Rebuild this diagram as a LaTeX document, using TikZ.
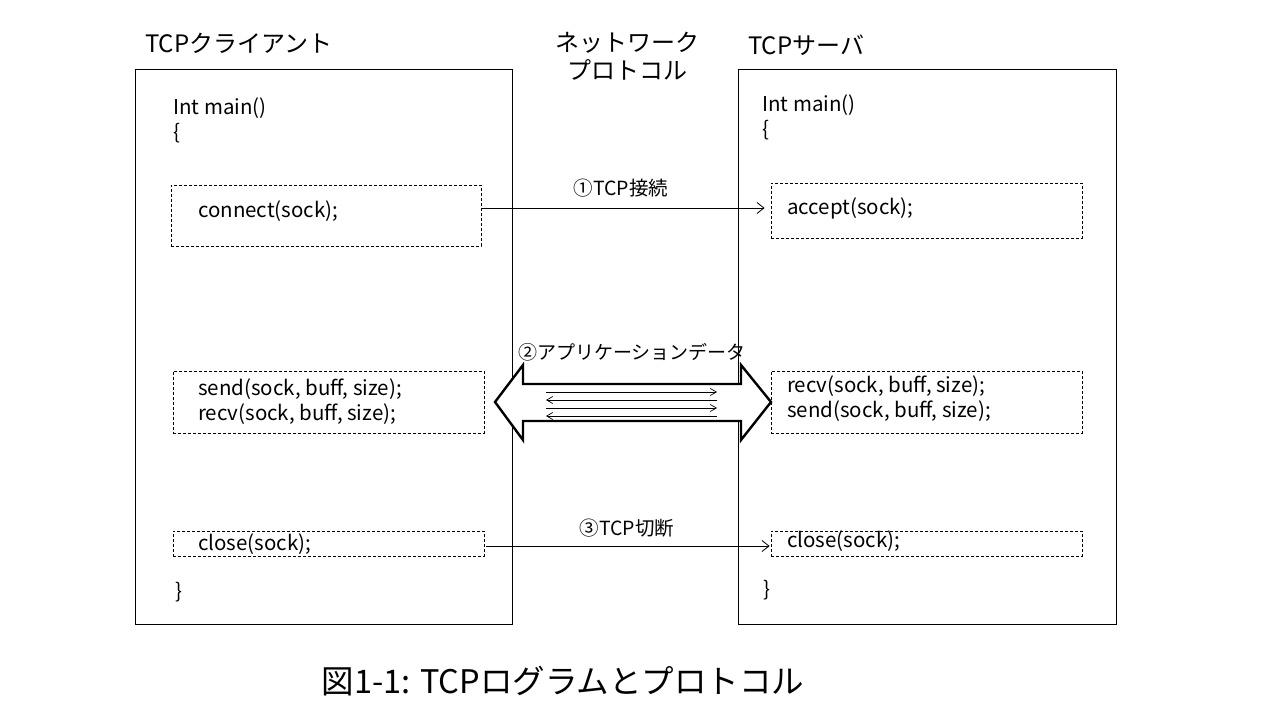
\documentclass[tikz,border=0pt]{standalone}
\usepackage{fontspec}
\setmainfont{Noto Sans CJK JP}
\usetikzlibrary{arrows.meta}
\tikzset{
 bigbox/.style={draw, line width=0.9pt, minimum height=555pt, inner sep=0pt},
 dbox/.style={draw, dash pattern=on 3pt off 2pt, line width=0.8pt, inner sep=0pt, minimum width=311pt},
 code/.style={font=\fontsize{20.5}{25}\selectfont, anchor=west, align=left, inner sep=0pt},
 ttl/.style={font=\fontsize{24}{28}\selectfont, inner sep=0pt},
 lbl/.style={font=\fontsize{19.5}{20}\selectfont, inner sep=0pt},
 msg/.style={-{Straight Barb[length=7pt,width=11pt]}, line width=0.8pt},
 small/.style={-{Straight Barb[length=6pt,width=7pt]}, line width=0.7pt},
 fat/.style={draw, fill=white, line width=2.4pt, line join=miter}
}
\begin{document}
\begin{tikzpicture}[x=1pt,y=-1pt]
\useasboundingbox[fill=white] (0,0) rectangle (1280,720);
% big boxes
\node[bigbox, minimum width=377pt] (client) at (323.5,346.5) {};
\node[bigbox, minimum width=378pt] (server) at (927,346.5) {};
% titles
\node[ttl, anchor=west] (tclient) at (145,43) {TCPクライアント};
\node[ttl, anchor=west] (tserver) at (748,45) {TCPサーバ};
\node[ttl, align=center] (tnet) at (627,56) {ネットワーク\\プロトコル};
% main
\node[code] (cmain) at (173,120.5) {Int main()\\\{};
\node[code] (smain) at (762,117) {Int main()\\\{};
\node[code] (cend) at (175,592) {\}};
\node[code] (send) at (763,590) {\}};
% dashed boxes
\node[dbox, minimum width=310pt, minimum height=61pt] (c1) at (326,215.5) {};
\node[dbox, minimum height=55pt] (a1) at (926.5,210.5) {};
\node[dbox, minimum height=62pt] (c2) at (328.5,402) {};
\node[dbox, minimum height=62pt] (a2) at (926.5,402) {};
\node[dbox, minimum height=25pt] (c3) at (328.5,543.5) {};
\node[dbox, minimum height=25pt] (a3) at (926.5,543.5) {};
% code texts
\node[code] (tc1) at (198,211) {connect(sock);};
\node[code] (ta1) at (787,208) {accept(sock);};
\node[code] (tc2) at (198,401.5) {send(sock, buff, size);\\recv(sock, buff, size);};
\node[code] (ta2) at (787,398.5) {recv(sock, buff, size);\\send(sock, buff, size);};
\node[code] (tc3) at (198,544) {close(sock);};
\node[code] (ta3) at (787,541) {close(sock);};
% arrow 1
\draw[msg, shorten >=6pt] (c1.east |- 0,208) -- (a1.west |- 0,208);
\node[lbl] (l1) at (621,188) {①TCP接続};
% arrow 3
\draw[msg, shorten <=2pt, shorten >=1pt] (c3.east |- 0,546) -- (a3.west |- 0,546);
\node[lbl] (l3) at (627,528) {③TCP切断};
% double arrow
\draw[fat] (495,402) -- (523,365) -- (523,384) -- (741,384) -- (741,365)
  -- (771,402) -- (741,440) -- (741,421) -- (523,421) -- (523,440) -- cycle;
\coordinate (p1) at (546,392); \coordinate (q1) at (717,392);
\coordinate (p2) at (546,400); \coordinate (q2) at (717,400);
\coordinate (p3) at (546,408); \coordinate (q3) at (717,408);
\coordinate (p4) at (546,416); \coordinate (q4) at (717,416);
\draw[small] (p1) -- (q1);
\draw[small] (q2) -- (p2);
\draw[small] (p3) -- (q3);
\draw[small] (q4) -- (p4);
\node[font=\fontsize{19}{20}\selectfont, inner sep=0pt] (l2) at (632,352) {②アプリケーションデータ};
% caption
\node[font=\fontsize{32.5}{34}\selectfont, inner sep=0pt] (cap) at (563,681) {図1-1: TCPログラムとプロトコル};
\end{tikzpicture}
\end{document}
